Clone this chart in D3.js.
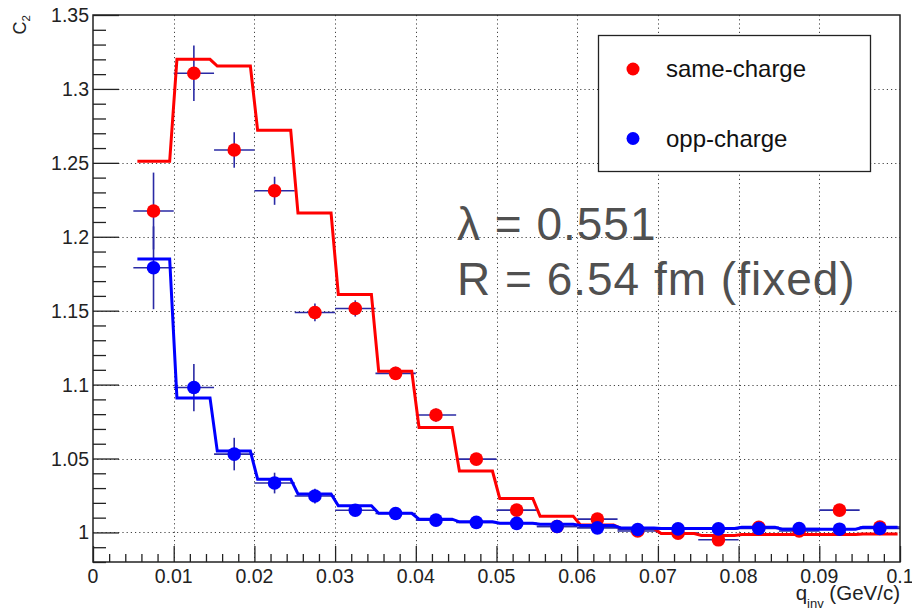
<!DOCTYPE html>
<html>
<head>
<meta charset="utf-8">
<script src="https://cdn.jsdelivr.net/npm/d3@7"></script>
<style>
  html, body { margin: 0; padding: 0; background: #fff; }
  svg { display: block; }
  text { font-family: "Liberation Sans", Arial, Helvetica, sans-serif; }
</style>
</head>
<body>
<svg id="chart" width="912" height="614"></svg>
<script>
// ---------------- data ----------------
const binCenters = [0.0075, 0.0125, 0.0175, 0.0225, 0.0275, 0.0325, 0.0375, 0.0425, 0.0475, 0.0525,
                    0.0575, 0.0625, 0.0675, 0.0725, 0.0775, 0.0825, 0.0875, 0.0925, 0.0975];
const binHalfWidth = 0.0025;

const sameVals = [1.2174, 1.3106, 1.2587, 1.2311, 1.1488, 1.1515, 1.1076, 1.0794, 1.0496, 1.0151,
                  1.0040, 1.0090, 1.0010, 0.9995, 0.9950, 1.0035, 1.0010, 1.0151, 1.0037];
const sameErr  = [0.026, 0.0187, 0.012, 0.0095, 0.006, 0.0055, 0.0045, 0.0045, 0.004, 0.0035,
                  0.003, 0.003, 0.003, 0.003, 0.003, 0.003, 0.003, 0.003, 0.003];

const oppVals  = [1.1790, 1.0980, 1.0530, 1.0334, 1.0246, 1.0150, 1.0128, 1.0083, 1.0068, 1.0061,
                  1.0040, 1.0031, 1.0020, 1.0024, 1.0024, 1.0027, 1.0027, 1.0022, 1.0027];
const oppErr   = [0.028, 0.016, 0.011, 0.007, 0.005, 0.004, 0.003, 0.003, 0.0025, 0.0025,
                  0.0025, 0.0025, 0.0025, 0.0025, 0.0025, 0.0025, 0.0025, 0.0025, 0.0025];

// fit levels per bin (bins of width 0.005 from 0.005 to 0.1)
const sameFit = [1.251, 1.320, 1.3155, 1.272, 1.216, 1.161, 1.109, 1.071, 1.0415, 1.023,
                 1.011, 1.005, 1.0027, 0.9993, 0.998, 0.9986, 0.9986, 0.9986, 0.999];
const oppFit  = [1.185, 1.091, 1.055, 1.036, 1.026, 1.018, 1.013, 1.009, 1.0072, 1.0062,
                 1.0055, 1.0047, 1.003, 1.0027, 1.0027, 1.0035, 1.0022, 1.0022, 1.0035];
const fitRange = [0.0055, 0.0997];

const xTicks = [0, 0.01, 0.02, 0.03, 0.04, 0.05, 0.06, 0.07, 0.08, 0.09, 0.1];
const xTickLabels = ["0", "0.01", "0.02", "0.03", "0.04", "0.05", "0.06", "0.07", "0.08", "0.09", "0.1"];
const yTicks = [1, 1.05, 1.1, 1.15, 1.2, 1.25, 1.3, 1.35];
const yTickLabels = ["1", "1.05", "1.1", "1.15", "1.2", "1.25", "1.3", "1.35"];

const seriesNames = ["same-charge", "opp-charge"];
const seriesColors = ["#ff0000", "#0000ff"];
const fitText = ["\u03bb = 0.551", "R = 6.54 fm (fixed)"];

// ---------------- layout ----------------
const svg = d3.select("#chart");
const L = 93, R = 900, T = 15, B = 562;
const x = d3.scaleLinear().domain([0, 0.1]).range([L, R]);
const y = d3.scaleLinear().domain([0.98, 1.35]).range([B, T]);

// grid
const grid = svg.append("g").attr("stroke", "#444").attr("stroke-width", 1)
  .attr("stroke-dasharray", "1.2,3");
grid.selectAll("line.gx").data(xTicks.filter(v => v > 0 && v < 0.1)).enter().append("line")
  .attr("x1", d => Math.round(x(d)) + 0.5).attr("x2", d => Math.round(x(d)) + 0.5)
  .attr("y1", T).attr("y2", B);
grid.selectAll("line.gy").data(yTicks.filter(v => v < 1.35)).enter().append("line")
  .attr("y1", d => Math.round(y(d)) + 0.5).attr("y2", d => Math.round(y(d)) + 0.5)
  .attr("x1", L).attr("x2", R);

// axes (ROOT-style inward ticks)
const yAxis = d3.axisRight(y).tickValues(d3.range(0.98, 1.3501, 0.01)).tickSize(13).tickFormat("");
const gy = svg.append("g").attr("transform", `translate(${L},0)`).call(yAxis);
gy.select(".domain").remove();
gy.selectAll(".tick line").attr("stroke", "#222").attr("stroke-width", 1.3)
  .attr("x2", d => (yTicks.some(t => Math.abs(t - d) < 1e-6) ? 26 : 13));

const xAxis = d3.axisTop(x).tickValues(d3.range(0, 0.1001, 0.002)).tickSize(8).tickFormat("");
const gx = svg.append("g").attr("transform", `translate(0,${B})`).call(xAxis);
gx.select(".domain").remove();
gx.selectAll(".tick line").attr("stroke", "#222").attr("stroke-width", 1.3)
  .attr("y2", d => (xTicks.some(t => Math.abs(t - d) < 1e-6) ? -16 : -8));

// tick labels
svg.append("g").selectAll("text").data(yTicks).enter().append("text")
  .attr("x", 89).attr("y", d => y(d) + 7)
  .attr("text-anchor", "end").attr("font-size", 19.5).attr("fill", "#222")
  .text((d, i) => yTickLabels[i]);
svg.append("g").selectAll("text").data(xTicks).enter().append("text")
  .attr("x", d => x(d)).attr("y", 583)
  .attr("text-anchor", "middle").attr("font-size", 19.5).attr("fill", "#222")
  .text((d, i) => xTickLabels[i]);

// axis titles
const yt = svg.append("text").attr("transform", "translate(26,15) rotate(-90)")
  .attr("text-anchor", "end").attr("font-size", 18).attr("fill", "#222");
yt.append("tspan").text("C");
yt.append("tspan").attr("font-size", 11.5).attr("dy", 4).text("2");

const xt = svg.append("text").attr("x", 900).attr("y", 600)
  .attr("text-anchor", "end").attr("font-size", 20.5).attr("fill", "#222");
xt.append("tspan").text("q");
xt.append("tspan").attr("font-size", 13).attr("dy", 8).text("inv");
xt.append("tspan").attr("dy", -8).text(" (GeV/c)");

// fit-parameter text
svg.append("g").selectAll("text").data(fitText).enter().append("text")
  .attr("x", 457).attr("y", (d, i) => 240 + i * 54.5)
  .attr("font-size", 46).attr("letter-spacing", 1).attr("fill", "#505050")
  .text(d => d);

// ---------------- data marks ----------------
function fitPath(levels) {
  const pts = [[fitRange[0], levels[0]]];
  for (let i = 0; i < levels.length - 1; i++) {
    const edge = binCenters[i] + binHalfWidth;
    pts.push([edge - 0.0005, levels[i]]);
    pts.push([edge + 0.0004, levels[i + 1]]);
  }
  pts.push([fitRange[1], levels[levels.length - 1]]);
  return d3.line().x(d => x(d[0])).y(d => y(d[1]))(pts);
}

function drawSeries(vals, errs, color, fit) {
  const g = svg.append("g");
  const eb = g.append("g").attr("stroke", "#2a2aa5").attr("stroke-width", 1.6);
  eb.selectAll("line.h").data(vals).enter().append("line")
    .attr("x1", (d, i) => x(binCenters[i] - binHalfWidth))
    .attr("x2", (d, i) => x(binCenters[i] + binHalfWidth))
    .attr("y1", d => y(d)).attr("y2", d => y(d));
  eb.selectAll("line.v").data(vals).enter().append("line")
    .attr("x1", (d, i) => x(binCenters[i])).attr("x2", (d, i) => x(binCenters[i]))
    .attr("y1", (d, i) => y(d + errs[i])).attr("y2", (d, i) => y(d - errs[i]));
  g.selectAll("circle").data(vals).enter().append("circle")
    .attr("cx", (d, i) => x(binCenters[i])).attr("cy", d => y(d))
    .attr("r", 6.8).attr("fill", color);
  g.append("path").attr("d", fitPath(fit)).attr("fill", "none")
    .attr("stroke", color).attr("stroke-width", 3).attr("stroke-linejoin", "miter");
}
drawSeries(sameVals, sameErr, seriesColors[0], sameFit);
drawSeries(oppVals, oppErr, seriesColors[1], oppFit);

// frame
svg.append("rect").attr("x", L).attr("y", T).attr("width", R - L).attr("height", B - T)
  .attr("fill", "none").attr("stroke", "#222").attr("stroke-width", 1.5);

// legend
const lg = svg.append("g");
lg.append("rect").attr("x", 598.5).attr("y", 35.5).attr("width", 272).attr("height", 136)
  .attr("fill", "#fff").attr("stroke", "#222").attr("stroke-width", 1.3);
const items = lg.selectAll("g.item").data(seriesNames).enter().append("g");
items.append("circle").attr("cx", 633).attr("cy", (d, i) => 69 + i * 69.5)
  .attr("r", 6.5).attr("fill", (d, i) => seriesColors[i]);
items.append("text").attr("x", 666).attr("y", (d, i) => 69 + i * 69.5 + 8)
  .attr("font-size", 24).attr("fill", "#111").text(d => d);
</script>
</body>
</html>
